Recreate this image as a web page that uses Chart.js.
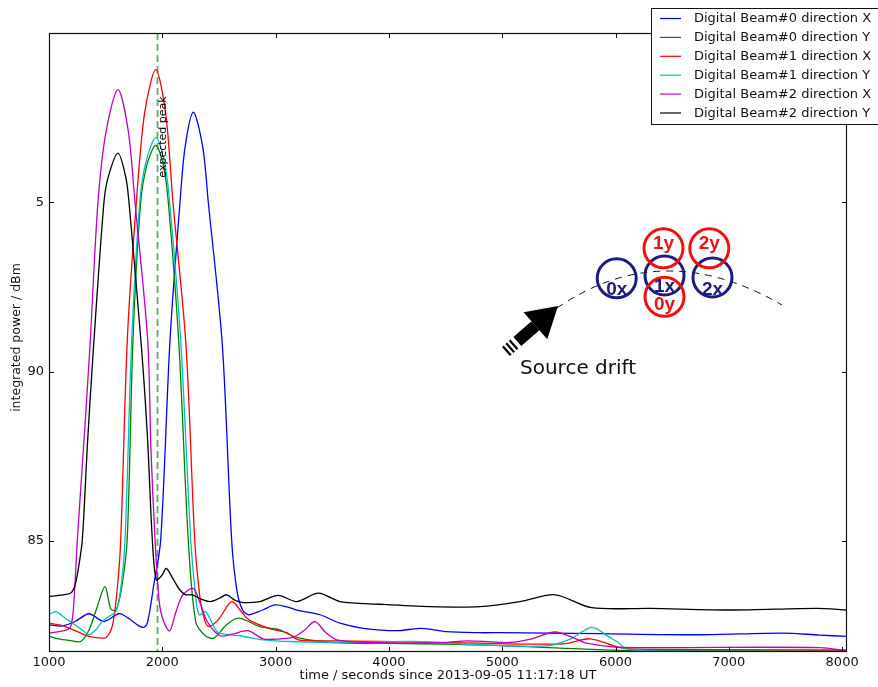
<!DOCTYPE html>
<html><head><meta charset="utf-8">
<script src="https://cdn.jsdelivr.net/npm/chart.js"></script>
<style>html,body{margin:0;padding:0;background:#fff;}#wrap{width:878px;height:687px;}</style>
</head><body><div id="wrap"><canvas id="c" width="878" height="687"></canvas></div>
<script>
// ---- data (time in s, integrated power) ----
const seriesLabels = ['Digital Beam#0 direction X','Digital Beam#0 direction Y','Digital Beam#1 direction X','Digital Beam#1 direction Y','Digital Beam#2 direction X','Digital Beam#2 direction Y'];
const seriesColors = ['#0000ff','#008000','#ff0000','#00bfbf','#bf00bf','#000000'];

const b0xT = [1000,1117,1230,1353,1485,1618,1700,1790,1838,1870,1925,1986,2068,2156,2201,2274,2357,2406,2530,2612,2660,2710,2765,2883,2995,3100,3186,3392,3568,3774,4069,4290,4510,4804,4981,5400,5863,6746,7478,7800,8043];
const b0xV = [82.52,82.49,82.62,82.85,82.62,82.85,82.72,82.5,82.45,82.6,83.7,85.03,90.93,95.0,96.63,97.66,96.63,95.0,90.78,85.03,83.5,82.95,82.82,82.96,83.11,83.05,82.96,82.82,82.57,82.42,82.35,82.42,82.32,82.29,82.29,82.28,82.26,82.23,82.28,82.22,82.18];

const b0yT = [1000,1100,1206,1280,1353,1420,1494,1545,1590,1640,1690,1741,1809,1867,1942,2006,2053,2147,2229,2295,2380,2456,2560,2671,2862,3039,3156,3330,3627,3921,4804,5687,6128,8043];
const b0yV = [82.18,82.1,82.05,82.03,82.37,83.0,83.65,83.0,82.95,83.6,85.03,90.93,95.0,96.14,96.68,96.14,95.0,90.78,85.03,82.62,82.2,82.13,82.5,82.72,82.47,82.37,82.18,82.06,81.98,81.98,81.93,81.81,81.76,81.75];

const b1xT = [1000,1117,1230,1353,1485,1520,1560,1600,1633,1691,1771,1843,1942,2030,2094,2209,2286,2330,2370,2412,2500,2612,2700,2765,2942,3098,3200,3480,3921,4804,5360,5560,5775,6011,6128,7000,8043];
const b1xV = [82.57,82.5,82.35,82.18,82.13,82.2,82.5,83.5,85.03,90.93,95.0,97.62,98.92,97.62,95.0,90.78,85.03,83.4,82.7,82.47,82.7,83.21,82.9,82.67,82.42,82.29,82.08,82.05,82.03,81.98,81.95,81.97,82.11,81.88,81.81,81.79,81.78];

const b1yT = [1000,1059,1150,1294,1353,1420,1470,1530,1589,1630,1671,1730,1801,1852,1942,2021,2065,2162,2251,2290,2324,2383,2485,2589,2686,2891,3127,3627,4213,4804,5393,5600,5790,5950,6011,6099,6304,7000,8043];
const b1yV = [82.82,82.91,82.7,82.37,82.23,82.4,82.62,82.77,82.91,83.5,85.03,90.93,95.0,96.14,96.91,96.14,95.0,90.93,85.03,83.5,82.82,82.91,82.32,82.23,82.2,82.08,82.03,82.0,82.03,81.93,81.9,82.1,82.45,82.15,82.03,81.81,81.75,81.74,81.73];

const b2xT = [1000,1100,1190,1225,1250,1303,1362,1432,1505,1609,1699,1759,1871,1900,1936,1971,2006,2065,2120,2180,2274,2330,2400,2509,2620,2756,2889,3000,3150,3250,3348,3440,3539,3804,4200,4500,4687,4900,5069,5250,5466,5620,5746,6011,6419,7805,8043];
const b2xV = [82.28,82.33,82.45,83.5,85.03,87.68,90.78,95.0,97.12,98.33,97.12,95.0,90.93,87.68,85.03,83.26,82.67,82.34,82.9,83.4,83.6,83.2,82.6,82.2,82.25,82.35,82.11,82.1,82.15,82.35,82.62,82.3,82.08,82.0,81.98,82.0,82.05,82.02,82.0,82.1,82.31,82.15,81.98,81.86,81.85,81.85,81.75];

const b2yT = [1000,1100,1192,1230,1260,1294,1340,1391,1485,1523,1609,1677,1706,1818,1870,1912,1947,2000,2035,2100,2156,2206,2265,2330,2421,2500,2568,2640,2715,2862,3024,3186,3377,3568,3921,4363,4804,5157,5466,5790,6304,7037,7776,8043];
const b2yV = [83.36,83.4,83.46,83.7,84.2,85.03,87.9,90.63,95.0,95.75,96.45,95.75,95.0,90.63,88.0,85.03,83.85,84.0,84.19,83.85,83.55,83.41,83.41,83.3,83.21,83.3,83.41,83.25,83.18,83.21,83.39,83.21,83.46,83.21,83.13,83.06,83.06,83.21,83.41,83.03,83.01,82.96,83.01,82.96];

const xTickValues = [1000,2000,3000,4000,5000,6000,7000,8000];
const yTickValues = [85,90,95];
const yTickLabels = ['85','90','5'];
const expectedPeak = 1955;
const xRange = [1000, 8043];
const yRange = [81.72, 100];

const xTitle = 'time / seconds since 2013-09-05 11:17:18 UT';
const yTitle = 'integrated power / dBm';
const peakLabel = 'expected peak';
const driftLabel = 'Source drift';
const beamCircles = [
  {txt:'0x', kind:'x'}, {txt:'1x', kind:'x'}, {txt:'2x', kind:'x'},
  {txt:'1y', kind:'y'}, {txt:'2y', kind:'y'}, {txt:'0y', kind:'y'}
];

const seriesT = [b0xT,b0yT,b1xT,b1yT,b2xT,b2yT];
const seriesV = [b0xV,b0yV,b1xV,b1yV,b2xV,b2yV];

// ---- styling / layout helpers ----
const FONT = 'DejaVu Sans';
const circlePos = { // diagram layout (decorative inset)
  '0x':[616.7,278.3,295], '1x':[664.5,275.5,291.5], '2x':[712.5,277.5,295],
  '1y':[663.5,248.3,248.5], '2y':[709.3,248.3,248.5], '0y':[664.5,296.8,310]
};

const decor = {
  id:'decor',
  beforeDatasetsDraw(chart){
    const ctx = chart.ctx, ca = chart.chartArea, xs = chart.scales.x;
    const px = Math.round(xs.getPixelForValue(expectedPeak)) + 0.5;
    ctx.save();
    ctx.strokeStyle = 'rgba(40,130,40,0.7)';
    ctx.lineWidth = 1.8;
    ctx.setLineDash([7,4]);
    ctx.beginPath(); ctx.moveTo(px, ca.top); ctx.lineTo(px, ca.bottom); ctx.stroke();
    ctx.restore();
  },
  afterDraw(chart){
    const ctx = chart.ctx, ca = chart.chartArea, xs = chart.scales.x, ys = chart.scales.y;
    ctx.save();
    // expected peak label
    const px = xs.getPixelForValue(expectedPeak);
    ctx.save();
    ctx.translate(px + 6, 137);
    ctx.rotate(-Math.PI/2);
    ctx.font = '11px "' + FONT + '"';
    ctx.fillStyle = '#000';
    ctx.textAlign = 'center'; ctx.textBaseline = 'middle';
    ctx.fillText(peakLabel, 0, 0);
    ctx.restore();

    // frame
    ctx.strokeStyle = '#111'; ctx.lineWidth = 1.2;
    ctx.strokeRect(ca.left + 0.5, ca.top + 0.5, ca.right - ca.left - 1, ca.bottom - ca.top - 1);
    // inward ticks
    ctx.lineWidth = 1;
    ctx.beginPath();
    xTickValues.forEach(v => {
      const x = Math.round(xs.getPixelForValue(v)) + 0.5;
      ctx.moveTo(x, ca.bottom); ctx.lineTo(x, ca.bottom - 5);
      ctx.moveTo(x, ca.top); ctx.lineTo(x, ca.top + 5);
    });
    yTickValues.forEach(v => {
      const y = Math.round(ys.getPixelForValue(v)) + 0.5;
      ctx.moveTo(ca.left, y); ctx.lineTo(ca.left + 5, y);
      ctx.moveTo(ca.right, y); ctx.lineTo(ca.right - 5, y);
    });
    ctx.stroke();

    // axis titles
    ctx.fillStyle = '#111';
    ctx.font = '13px "' + FONT + '"';
    ctx.textAlign = 'center'; ctx.textBaseline = 'middle';
    ctx.fillText(xTitle, (ca.left + ca.right)/2, 676);
    ctx.save();
    ctx.translate(17, (ca.top + ca.bottom)/2 - 5);
    ctx.rotate(-Math.PI/2);
    ctx.font = '12.5px "' + FONT + '"';
    ctx.fillText(yTitle, 0, 0);
    ctx.restore();

    // diagram: dashed drift path
    ctx.save();
    ctx.strokeStyle = '#111'; ctx.lineWidth = 1; ctx.setLineDash([7,6]);
    ctx.beginPath(); ctx.moveTo(557, 308); ctx.quadraticCurveTo(662.5, 235.5, 782, 305); ctx.stroke();
    ctx.setLineDash([]);
    // arrow
    const T = [558, 306], u = [0.753, -0.658], n = [0.658, 0.753];
    const B = [T[0] - 30*u[0], T[1] - 30*u[1]];
    ctx.fillStyle = '#000';
    ctx.beginPath();
    ctx.moveTo(T[0], T[1]);
    ctx.lineTo(B[0] + 18*n[0], B[1] + 18*n[1]);
    ctx.lineTo(B[0] - 18*n[0], B[1] - 18*n[1]);
    ctx.closePath(); ctx.fill();
    const S = [B[0] - 24*u[0], B[1] - 24*u[1]];
    ctx.beginPath();
    ctx.moveTo(B[0] + 6*n[0], B[1] + 6*n[1]);
    ctx.lineTo(B[0] - 6*n[0], B[1] - 6*n[1]);
    ctx.lineTo(S[0] - 6*n[0], S[1] - 6*n[1]);
    ctx.lineTo(S[0] + 6*n[0], S[1] + 6*n[1]);
    ctx.closePath(); ctx.fill();
    ctx.strokeStyle = '#000'; ctx.lineWidth = 2.2;
    [29, 33.5, 38].forEach(d => {
      const c = [B[0] - d*u[0], B[1] - d*u[1]];
      ctx.beginPath();
      ctx.moveTo(c[0] + 6*n[0], c[1] + 6*n[1]);
      ctx.lineTo(c[0] - 6*n[0], c[1] - 6*n[1]);
      ctx.stroke();
    });
    ctx.font = '20px "' + FONT + '"';
    ctx.fillStyle = '#111';
    ctx.textAlign = 'left'; ctx.textBaseline = 'alphabetic';
    ctx.fillText(driftLabel, 520, 374);
    // circles
    ['x','y'].forEach(kind => {
      beamCircles.filter(b => b.kind === kind).forEach(b => {
        const p = circlePos[b.txt];
        ctx.strokeStyle = kind === 'x' ? '#1c1c80' : '#ee1111';
        ctx.lineWidth = 3;
        ctx.beginPath(); ctx.arc(p[0], p[1], 19.5, 0, Math.PI*2); ctx.stroke();
      });
    });
    beamCircles.forEach(b => {
      const p = circlePos[b.txt];
      ctx.fillStyle = b.kind === 'x' ? '#1c1c80' : '#ee1111';
      ctx.font = 'bold 19px "Liberation Sans"';
      ctx.textAlign = 'center'; ctx.textBaseline = 'alphabetic';
      ctx.fillText(b.txt, p[0], p[2]);
    });
    ctx.restore();

    // legend
    ctx.fillStyle = '#fff'; ctx.strokeStyle = '#111'; ctx.lineWidth = 1;
    ctx.fillRect(651.5, 8.5, 240, 116);
    ctx.strokeRect(651.5, 8.5, 240, 116);
    ctx.font = '13px "' + FONT + '"';
    ctx.textAlign = 'left'; ctx.textBaseline = 'middle';
    chart.data.datasets.forEach((ds, i) => {
      const y = 18.5 + i*18.9;
      ctx.strokeStyle = ds.borderColor; ctx.lineWidth = 1.2;
      ctx.beginPath(); ctx.moveTo(660, y); ctx.lineTo(681, y); ctx.stroke();
      ctx.fillStyle = '#111';
      ctx.fillText(ds.label, 694, y + 0.5);
    });
    ctx.restore();
  }
};

const datasets = seriesLabels.map((lab, i) => ({
  label: lab,
  data: seriesT[i].map((t, k) => ({x: t, y: seriesV[i][k]})),
  borderColor: seriesColors[i],
  borderWidth: 1.3,
  pointRadius: 0,
  fill: false,
  tension: 0.3,
  order: seriesLabels.length - i
}));

new Chart(document.getElementById('c'), {
  type: 'line',
  data: { datasets },
  options: {
    responsive: false, animation: false, devicePixelRatio: 1,
    layout: { padding: { left: 0, right: 31, top: 33, bottom: 0 } },
    plugins: { legend: { display: false }, tooltip: { enabled: false } },
    scales: {
      x: {
        type: 'linear', min: xRange[0], max: xRange[1],
        grid: { display: false, drawTicks: false }, border: { display: false },
        afterBuildTicks: s => { s.ticks = xTickValues.map(v => ({value: v})); },
        afterFit: s => { s.height = 35; },
        ticks: { autoSkip: false, maxRotation: 0, padding: 3, color: '#111',
          font: { family: FONT, size: 13 }, callback: v => String(v) }
      },
      y: {
        type: 'linear', min: yRange[0], max: yRange[1],
        grid: { display: false, drawTicks: false }, border: { display: false },
        afterBuildTicks: s => { s.ticks = yTickValues.map(v => ({value: v})); },
        afterFit: s => { s.width = 49; },
        ticks: { padding: 5, color: '#111', font: { family: FONT, size: 13 },
          callback: (v, i) => yTickLabels[i] }
      }
    }
  },
  plugins: [decor]
});
</script></body></html>
